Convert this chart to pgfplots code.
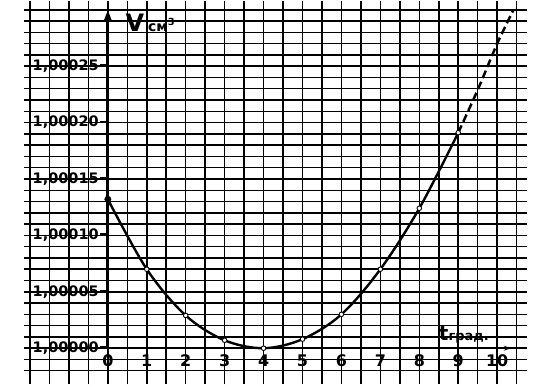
\documentclass[border=0pt]{standalone}
\usepackage{fontspec}
\setmainfont{DejaVu Sans}
\usepackage{pgfplots}
\pgfplotsset{compat=1.18}
\usetikzlibrary{arrows.meta}
\newcommand{\tk}{\hspace{1.5pt}\rule[0.32em]{6pt}{1.6pt}}
\begin{document}
\begin{tikzpicture}
\begin{axis}[
  x=39pt, y=11.3pt,
  xmin=-2.15, xmax=10.77, ymin=-3.2, ymax=30.8,
  axis lines=middle, axis line style={draw=none},
  hide obscured x ticks=false, hide obscured y ticks=false,
  clip=false,
  xtick={0,1,2,3,4,5,6,7,8,9,10},
  xticklabels={0,1,2,3,4,5,6,7,8,9,10},
  ytick={0,5,10,15,20,25},
  yticklabels={{1,00000\tk},{1,00005\tk},{1,00010\tk},{1,00015\tk},{1,00020\tk},{1,00025\tk}},
  minor xtick={-2,-1.5,...,10.5},
  minor ytick={-2,-1,...,30},
  grid=minor,
  minor grid style={black, line width=1.5pt},
  major tick length=0pt, minor tick length=0pt,
  yticklabel style={font=\fontsize{14.5}{14.5}\selectfont\bfseries, inner sep=0pt, xshift=-1.5pt},
  xticklabel style={font=\fontsize{16}{16}\selectfont\bfseries, inner sep=1pt, yshift=-5pt},
]
\path (axis cs:-2.77,-3.2) rectangle (axis cs:11.1,30.8);
\draw[line width=1.9pt, -{Stealth[length=7pt,width=5pt]}] (axis cs:0,0) -- (axis cs:10.35,0);
\draw[line width=2.8pt, -{Triangle[length=12pt,width=8pt]}] (axis cs:0,0) -- (axis cs:0,30);
\addplot[black, line width=2.4pt, smooth, tension=0.55] coordinates {
 (0,13.2) (1,7.0) (2,2.9) (3,0.7) (4,0) (5,0.8) (6,3.0) (7,7.0) (8,12.4) (9,19.1)};
\addplot[black, line width=2.5pt, dash pattern=on 8pt off 4pt, smooth] coordinates {
 (9,19.1) (9.5,22.9) (10,27.0) (10.42,30.0)};
\addplot[only marks, mark=*, mark size=2.3pt, mark options={fill=white, draw=black, line width=0.9pt}] coordinates {
 (1,7.0) (2,2.9) (3,0.7) (4,0) (5,0.8) (6,3.0) (7,7.0) (8,12.4) (9,19.1)};
\addplot[only marks, mark=*, mark size=3.2pt, black] coordinates {(0,13.2)};
\node[anchor=base west, inner sep=0pt] at (axis cs:0.45,28.1)
  {\fontsize{24}{24}\selectfont\bfseries V\,\fontsize{14}{14}\selectfont см\textsuperscript{3}};
\node[anchor=base west, inner sep=0pt] at (axis cs:8.5,0.7)
  {\fontsize{20}{20}\selectfont\bfseries t\fontsize{13}{13}\selectfont град.};
\end{axis}
\end{tikzpicture}
\end{document}
